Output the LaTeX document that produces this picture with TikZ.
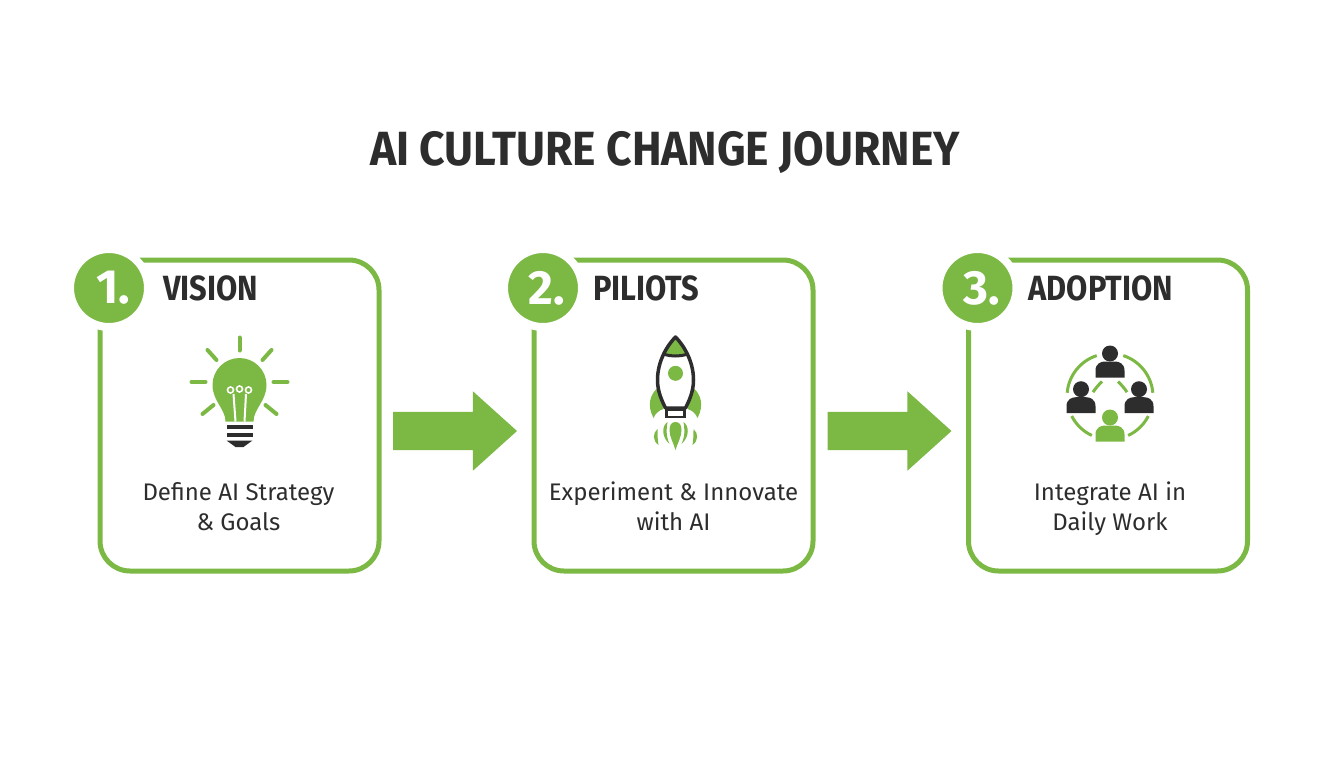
\documentclass[tikz,border=0pt]{standalone}
\usepackage{fontspec}
\setmainfont{Fira Sans}
\newfontfamily\titlefont[FakeStretch=0.925]{Fira Sans}
\newfontfamily\headfont[FakeStretch=0.88]{Fira Sans}
\usepackage{tikz}
\usetikzlibrary{shapes,arrows,positioning}
\definecolor{leaf}{RGB}{124, 184, 68}
\definecolor{ink}{RGB}{45, 45, 45}
\tikzstyle{stepbox} = [rectangle, draw=leaf, line width=5pt, rounded corners=30pt, minimum width=279pt, minimum height=311pt, inner sep=0pt, outer sep=0pt]
\tikzstyle{num} = [circle, draw=white, line width=8pt, fill=leaf, text=white, font=\fontsize{48}{48}\selectfont\bfseries, minimum size=78pt, inner sep=0pt]
\tikzstyle{heading} = [text=ink, font=\fontsize{35}{35}\headfont\bfseries, inner sep=0pt, anchor=west]
\tikzstyle{body} = [text=ink, align=center, font=\fontsize{24}{30}\selectfont, inner sep=0pt]
\tikzstyle{bigarrow} = [single arrow, fill=leaf, minimum width=79pt, minimum height=124pt, single arrow head extend=20.5pt, single arrow tip angle=84, inner xsep=0pt, inner ysep=19pt, outer sep=0pt]
\tikzstyle{ray} = [draw=leaf, line width=4pt, line cap=round]
\tikzset{
  pics/person/.style={code={
    \fill[pic actions] (0,9) circle (8);
    \fill[pic actions] (-14.5,-15) -- (-14.5,-8) .. controls (-14.5,-1) and (-9,1) .. (-5,1) -- (5,1) .. controls (9,1) and (14.5,-1) .. (14.5,-8) -- (14.5,-15) -- cycle;
  }}
}

\begin{document}
\begin{tikzpicture}[x=1pt, y=1pt]
\useasboundingbox (0,0) rectangle (1344,-768);

% title =============================
\node[text=ink, font=\fontsize{48}{48}\titlefont\bfseries] (title) at (665,-153) {AI CULTURE CHANGE JOURNEY};

% boxes and arrows
\node[stepbox] (box1) at (239.5,-415.5) {};
\node[bigarrow, right=14pt of box1, yshift=-15.5pt] (arrow1) {};
\node[stepbox, right=155pt of box1] (box2) {};
\node[bigarrow, right=14.5pt of box2, yshift=-15.5pt] (arrow2) {};
\node[stepbox, right=155.5pt of box2] (box3) {};

% numbers
\node[num] (num1) at ([shift={(9,-28)}]box1.north west) {\kern8pt 1.};
\node[num] (num2) at ([shift={(9,-28)}]box2.north west) {\kern8pt 2.};
\node[num] (num3) at ([shift={(9,-28)}]box3.north west) {\kern8pt 3.};

% headings
\node[heading, right=11pt of num1] (head1) {VISION};
\node[heading, right=7pt of num2] (head2) {PILIOTS};
\node[heading, right=8pt of num3] (head3) {ADOPTION};

% texts
\node[body] (text1) at ([shift={(-1,-91.5)}]box1.center) {Define AI Strategy\\\& Goals};
\node[body] (text2) at ([shift={(0,-90.5)}]box2.center) {Experiment \& Innovate\\with AI};
\node[body] (text3) at ([shift={(2,-93)}]box3.center) {Integrate AI in\\Daily Work};

% icon places
\coordinate (icon1) at ([shift={(0,30.5)}]box1.center);
\coordinate (icon2) at ([shift={(2,40.5)}]box2.center);
\coordinate (icon3) at ([shift={(2,19)}]box3.center);

% bulb
\begin{scope}[shift={(icon1)}]
\foreach \xa/\ya/\xb/\yb in {0/47.5/0/34.5, -32/35/-23/25, 32/35/23/25, -48/3/-34/3, 48/3/34/3, -37/-29/-26/-20, 37/-29/26/-20}
  \draw[ray] (\xa,\ya) -- (\xb,\yb);
\fill[leaf] (-14,-36.5) .. controls (-14,-24) and (-27,-16) .. (-27,0) arc (180:0:27) .. controls (27,-16) and (14,-24) .. (14,-36.5) -- cycle;
\draw[white, line width=2pt] (-4,-36.5) -- (-6,-9) (5,-36.5) -- (6.5,-9);
\draw[white, line width=1.6pt] (-9,-5) circle (3) (0,-4) circle (3) (9,-5) circle (3);
\fill[ink] (-13,-40) rectangle (13,-44);
\fill[ink] (-13,-48) rectangle (13,-52);
\fill[ink] (-13,-55.5) -- (13,-55.5) -- (4,-62) -- (-4,-62) -- cycle;
\end{scope}

% rocket
\begin{scope}[shift={(icon2)}]
\fill[leaf] (-18,-13) .. controls (-25,-19) and (-29,-30) .. (-22,-43) .. controls (-20,-38) and (-16,-35) .. (-12,-34) -- cycle;
\fill[leaf] (18,-13) .. controls (25,-19) and (29,-30) .. (22,-43) .. controls (20,-38) and (16,-35) .. (12,-34) -- cycle;
\fill[white] (0,38) .. controls (-8,30) and (-18,14) .. (-18,-5) .. controls (-18,-16) and (-14,-25) .. (-10,-33) -- (10,-33) .. controls (14,-25) and (18,-16) .. (18,-5) .. controls (18,14) and (8,30) .. (0,38) -- cycle;
\fill[leaf] (0,38) .. controls (-4,34) and (-8,28) .. (-11,20.5) .. controls (-4,18.5) and (4,18.5) .. (11,20.5) .. controls (8,28) and (4,34) .. (0,38) -- cycle;
\draw[ink, line width=3.5pt, line join=round] (0,38) .. controls (-8,30) and (-18,14) .. (-18,-5) .. controls (-18,-16) and (-14,-25) .. (-10,-33) -- (10,-33) .. controls (14,-25) and (18,-16) .. (18,-5) .. controls (18,14) and (8,30) .. (0,38) -- cycle;
\draw[ink, line width=3pt] (-11,20.5) .. controls (-4,18.5) and (4,18.5) .. (11,20.5);
\fill[leaf] (0,1.7) circle (7.5);
\draw[ink, line width=2.5pt, fill=white] (-9,-35) rectangle (9,-42);
\fill[leaf] (0,-47) .. controls (4,-47) and (6,-50) .. (6,-55) .. controls (6,-62) and (2,-68) .. (0,-75) .. controls (-2,-68) and (-6,-62) .. (-6,-55) .. controls (-6,-50) and (-4,-47) .. (0,-47) -- cycle;
\foreach \s in {-1,1} {
  \fill[leaf] (\s*8,-47) .. controls (\s*14,-51) and (\s*14,-62) .. (\s*6,-69) .. controls (\s*10,-60) and (\s*9,-53) .. (\s*8,-47) -- cycle;
  \fill[leaf] (\s*18,-54) .. controls (\s*23,-58) and (\s*23,-66) .. (\s*17,-70) .. controls (\s*18,-64) and (\s*18,-60) .. (\s*18,-54) -- cycle;
}
\end{scope}

% people
\begin{scope}[shift={(icon3)}]
\draw[leaf, line width=3pt] (175:43) arc (175:108:43);
\draw[leaf, line width=3pt] (72:43) arc (72:5:43);
\draw[leaf, line width=3pt] (207:43) arc (207:245:43);
\draw[leaf, line width=3pt] (295:43) arc (295:333:43);
\draw[leaf, line width=3pt] (-17,4.3) .. controls (-14,9) and (-11,12) .. (-8,15);
\draw[leaf, line width=3pt] (17,4.3) .. controls (14,9) and (11,12) .. (8,15);
\pic[fill=ink] at (0,34) {person};
\pic[fill=ink] at (-29,-1.7) {person};
\pic[fill=ink] at (29,-1.7) {person};
\pic[fill=leaf] at (0,-30) {person};
\end{scope}

\end{tikzpicture}
\end{document}
